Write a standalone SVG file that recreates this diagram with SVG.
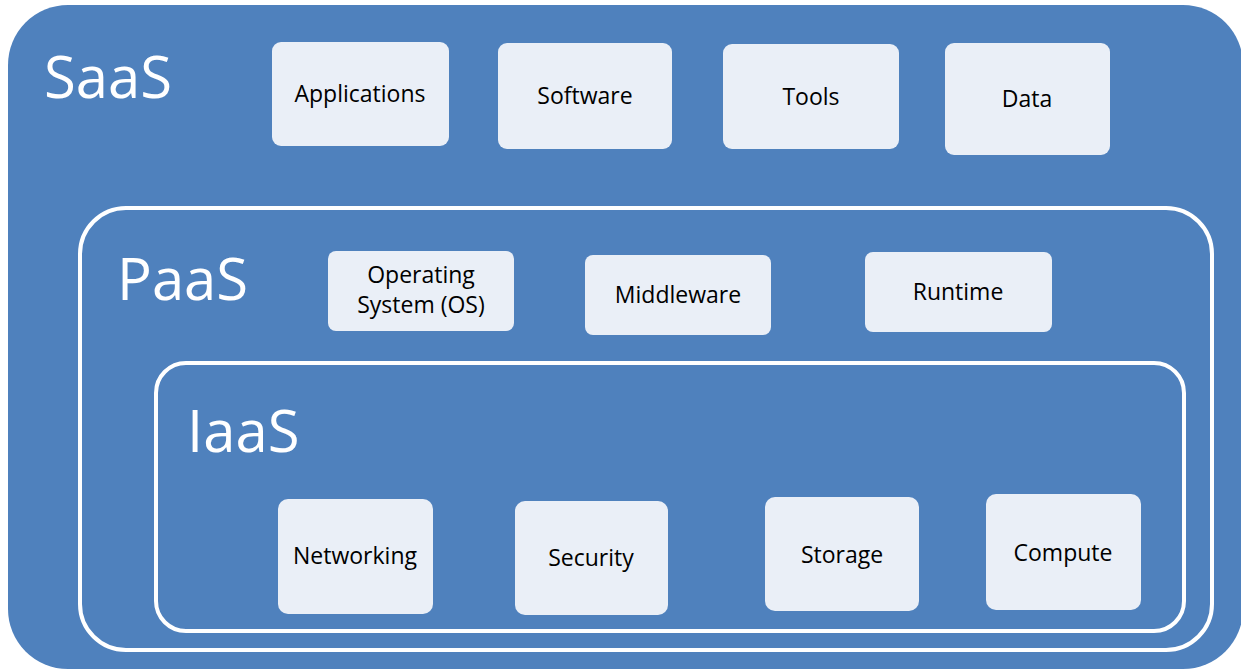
<svg xmlns="http://www.w3.org/2000/svg" width="1241" height="669" viewBox="0 0 1241 669">
<style>
.layer{fill:#4F81BD}
.frame{fill:none;stroke:#FFFFFF;stroke-width:4}
.box{fill:#EAEFF7}
.lbl{font-family:"Open Sans","Noto Sans",sans-serif;font-size:23px;fill:#000000;text-anchor:middle}
.big{font-family:"Open Sans","Noto Sans",sans-serif;font-size:58px;fill:#FFFFFF}
</style>
<rect width="1241" height="669" fill="#FFFFFF"/>
<g id="saas">
<rect class="layer" x="8" y="5" width="1235" height="664" rx="60"/>
<text class="big" x="44" y="98">SaaS</text>
</g>
<g id="paas">
<rect class="frame" x="80" y="208" width="1132" height="442" rx="46"/>
<text class="big" x="117" y="300">PaaS</text>
</g>
<g id="iaas">
<rect class="frame" x="156" y="363" width="1028" height="268" rx="30"/>
<text class="big" x="187" y="452">IaaS</text>
</g>
<g id="applications"><rect class="box" x="272" y="42" width="177" height="104" rx="9"/><text class="lbl" x="360" y="102">Applications</text></g>
<g id="software"><rect class="box" x="498" y="43" width="174" height="106" rx="9"/><text class="lbl" x="585" y="104">Software</text></g>
<g id="tools"><rect class="box" x="723" y="44" width="176" height="105" rx="9"/><text class="lbl" x="811" y="105">Tools</text></g>
<g id="data"><rect class="box" x="945" y="43" width="165" height="112" rx="9"/><text class="lbl" x="1027" y="107">Data</text></g>
<g id="os"><rect class="box" x="328" y="251" width="186" height="80" rx="8"/><text class="lbl" x="421" y="283">Operating</text><text class="lbl" x="421" y="313">System (OS)</text></g>
<g id="middleware"><rect class="box" x="585" y="255" width="186" height="80" rx="8"/><text class="lbl" x="678" y="303">Middleware</text></g>
<g id="runtime"><rect class="box" x="865" y="252" width="187" height="80" rx="8"/><text class="lbl" x="958" y="300">Runtime</text></g>
<g id="networking"><rect class="box" x="278" y="499" width="155" height="115" rx="10"/><text class="lbl" x="355" y="564">Networking</text></g>
<g id="security"><rect class="box" x="515" y="501" width="153" height="114" rx="10"/><text class="lbl" x="591" y="566">Security</text></g>
<g id="storage"><rect class="box" x="765" y="497" width="154" height="114" rx="10"/><text class="lbl" x="842" y="563">Storage</text></g>
<g id="compute"><rect class="box" x="986" y="494" width="155" height="116" rx="10"/><text class="lbl" x="1063" y="561">Compute</text></g>
<g id="connectors"/>
</svg>
